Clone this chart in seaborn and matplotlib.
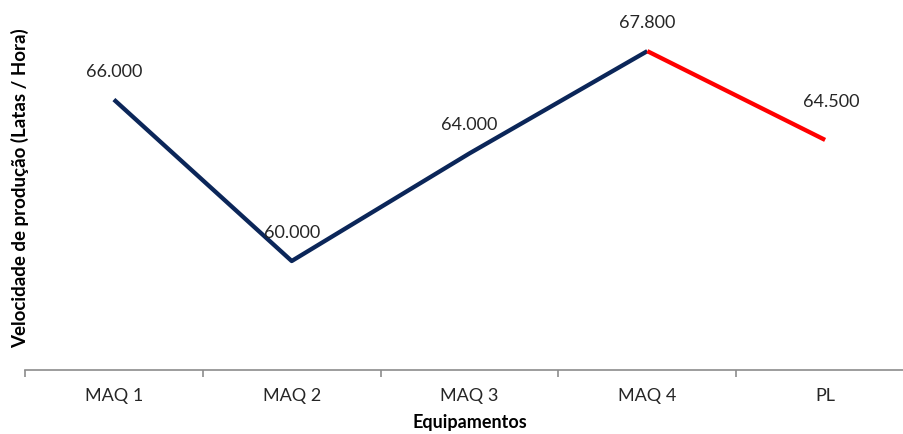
import matplotlib
matplotlib.use("Agg")
import matplotlib.pyplot as plt
import seaborn as sns
import pandas as pd
from matplotlib.ticker import FixedLocator

# Production speed per equipment (cans per hour)
equipamentos = ["MAQ 1", "MAQ 2", "MAQ 3", "MAQ 4", "PL"]
velocidade = [66000, 60000, 64000, 67800, 64500]

sns.set_theme(style="white")
plt.rcParams["font.family"] = ["Lato", "DejaVu Sans"]

df = pd.DataFrame({"pos": range(len(equipamentos)),
                   "equip": equipamentos,
                   "vel": velocidade})

fig = plt.figure(figsize=(9.04, 4.34), dpi=100)
ax = fig.add_axes([25 / 904, 64 / 434, 889 / 904, 370 / 434])

# Machines in navy, the line from MAQ 4 to PL in red
maquinas = df.iloc[:4]
linha = df.iloc[3:]
sns.lineplot(data=maquinas, x="pos", y="vel", color="#0B2659", linewidth=3.1,
             ax=ax, solid_capstyle="butt")
sns.lineplot(data=linha, x="pos", y="vel", color="#FF0000", linewidth=3.1,
             ax=ax, solid_capstyle="butt")


def fmt_pt(v):
    return f"{v:,.0f}".replace(",", ".")


for i, (p, v) in enumerate(zip(df["pos"], df["vel"])):
    dy = 28 if i < len(df) - 1 else 38
    dx = 0 if i < len(df) - 1 else 6
    ax.annotate(fmt_pt(v), (p, v), xytext=(dx, dy), textcoords="offset pixels",
                ha="center", va="center", fontsize=13, color="#262626")

ax.set_xlim(-0.5, len(equipamentos) - 0.5)
ax.set_ylim(55950, 69700)

for side in ["top", "right", "left"]:
    ax.spines[side].set_visible(False)
ax.spines["bottom"].set_color("#8c8c8c")
ax.spines["bottom"].set_linewidth(1.2)

ax.set_yticks([])
ax.set_xticks(list(df["pos"]))
ax.set_xticklabels(equipamentos, fontsize=13, color="#262626")
ax.xaxis.set_minor_locator(FixedLocator([i - 0.5 for i in range(len(equipamentos) + 1)]))
ax.tick_params(axis="x", which="major", length=0, pad=13)
ax.tick_params(axis="x", which="minor", length=5, width=1.2, color="#8c8c8c",
               direction="out", bottom=True)

ax.set_xlabel("Equipamentos", fontsize=13, fontweight="bold", color="black", labelpad=7)
fig.text(20 / 904, 1 - 188 / 434, "Velocidade de produção (Latas / Hora)",
         rotation=90, ha="center", va="center", fontsize=13.5, fontweight="bold",
         color="black")
ax.set_ylabel("")

fig.savefig("out.png", dpi=100)
